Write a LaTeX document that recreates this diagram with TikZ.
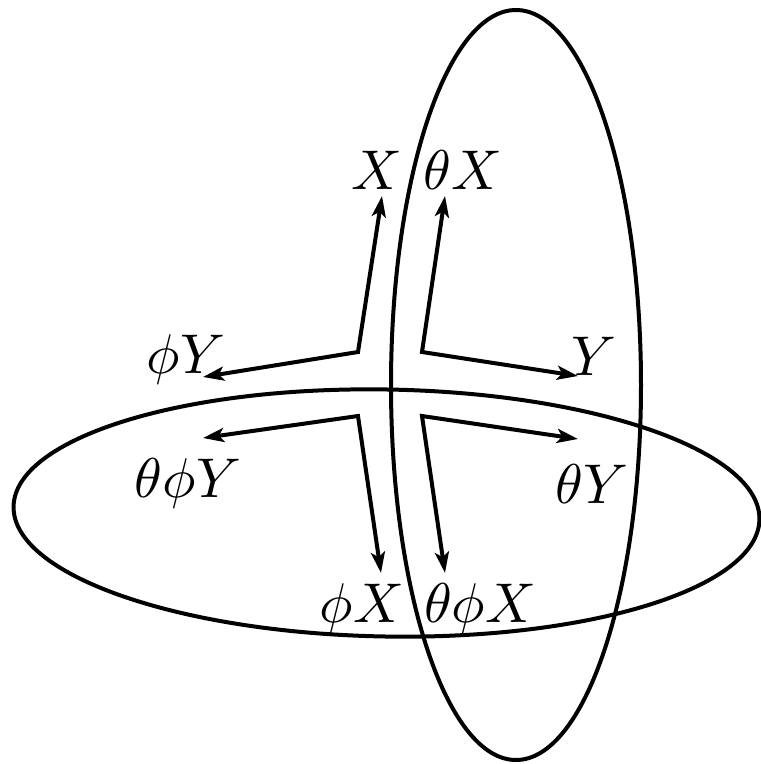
\documentclass[tikz,border=0pt]{standalone}
\usetikzlibrary{arrows.meta}
\begin{document}
\begin{tikzpicture}[x=1pt, y=-1pt,
    ring/.style={line width=4pt},
    axis/.style={line width=4pt,
      {Stealth[length=21pt,width=14pt,inset=5pt]}-{Stealth[length=21pt,width=14pt,inset=5pt]}},
    lab/.style={scale=5.6, anchor=base, inner sep=0pt}
  ]
  \useasboundingbox (0,0) rectangle (761,764);
  % the two rings
  \draw[ring, rotate around={-1:(386.5,513)}] (386.5,513) ellipse [x radius=373, y radius=123.5];
  \draw[ring] (516,385) ellipse [x radius=125, y radius=375];
  % corners and tips
  \coordinate (ul) at (358,352);
  \coordinate (ur) at (422,352);
  \coordinate (ll) at (358,416);
  \coordinate (lr) at (422,416);
  \node[lab] (x)     at (377,189) {$X$};
  \node[lab] (tx)    at (463,189) {$\theta X$};
  \node[lab] (py)    at (186,373) {$\phi Y$};
  \node[lab] (y)     at (594,375) {$Y$};
  \node[lab] (tpy)   at (188,497) {$\theta\phi Y$};
  \node[lab] (ty)    at (592,503) {$\theta Y$};
  \node[lab] (px)    at (362,622) {$\phi X$};
  \node[lab] (tpx)   at (480,622) {$\theta\phi X$};
  \coordinate (ulu) at (382,196);
  \coordinate (ull) at (203,377);
  \coordinate (uru) at (445,196);
  \coordinate (urr) at (578,376);
  \coordinate (lll) at (203,438);
  \coordinate (lld) at (381,573);
  \coordinate (lrr) at (578,439);
  \coordinate (lrd) at (445,573);
  % the arrows
  \draw[axis] (ulu) -- (ul) -- (ull);
  \draw[axis] (uru) -- (ur) -- (urr);
  \draw[axis] (lll) -- (ll) -- (lld);
  \draw[axis] (lrr) -- (lr) -- (lrd);
\end{tikzpicture}
\end{document}
